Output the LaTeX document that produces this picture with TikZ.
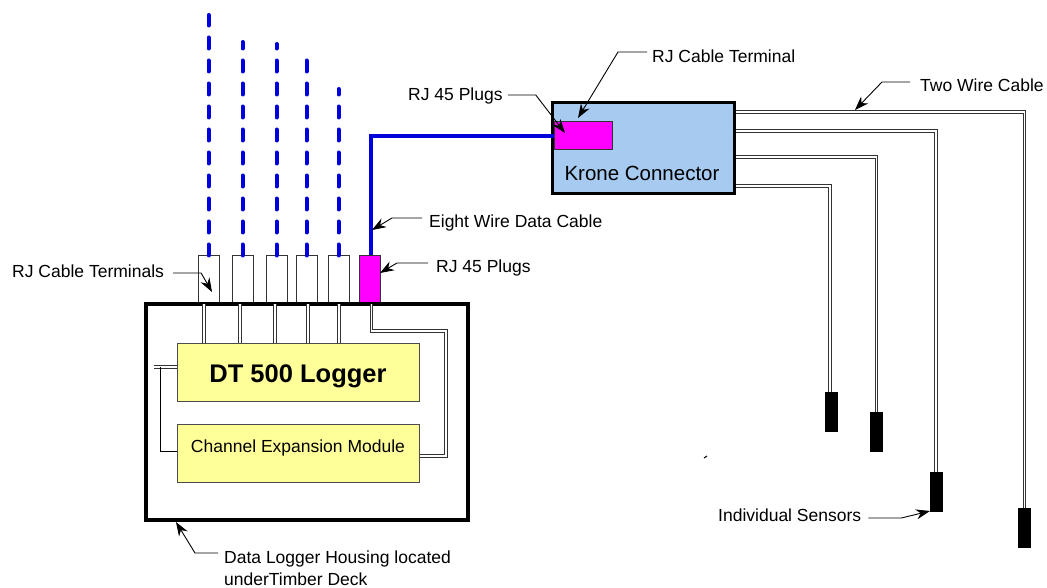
\documentclass[tikz,border=0pt]{standalone}
\usepackage{fontspec}
\usepackage{xcolor}
\usetikzlibrary{arrows.meta}
\setmainfont{Liberation Sans}
\definecolor{kroneblue}{RGB}{166,202,240}
\definecolor{loggeryellow}{RGB}{255,255,153}
\definecolor{plugpink}{RGB}{255,0,255}
\definecolor{cableblue}{RGB}{0,0,220}
\begin{document}
\begin{tikzpicture}%
  [x=1pt,y=-1pt,
   every node/.style={font=\fontsize{17.5}{22}\selectfont,inner sep=0},
   term node/.style={rectangle,draw=black!80,line width=1,minimum width=21,minimum height=47},
   plug node/.style={rectangle,draw=black!80,line width=1,fill=plugpink},
   box node/.style={rectangle,draw=black!70,line width=1,fill=loggeryellow,minimum width=242,minimum height=58},
   sensor node/.style={rectangle,fill=black,minimum width=13,minimum height=40},
   label node/.style={anchor=west,align=left},
   wire/.style={draw=black!80,line width=1.1,double=white,double distance=1.7},
   cable/.style={draw=cableblue,line width=4},
   note/.style={draw=black,line width=.9,-{Stealth[length=14,width=10]}}]
  \useasboundingbox (0,0) rectangle (1047,588);
  % terminals and the cables going up
  \foreach \i/\x/\t in {1/208.5/15,2/242.5/42,3/276.5/44,4/306.5/56,5/338.5/89}{
    \node(term\i)[term node] at (\x,279.5){};
    \coordinate(top\i) at (\x,\t);
    \draw[cable,line cap=round,dash pattern=on 11 off 12] (term\i.north) -- (top\i);
  }
  \node(plug)[plug node,minimum width=21,minimum height=47] at (369.5,279.5){};
  % housing and what is in it
  \node(housing)[rectangle,draw=black,line width=4,minimum width=322,minimum height=216] at (306.5,412){};
  \node(logger)[box node] at (298,372){\raisebox{-10pt}[0pt][0pt]{\fontsize{25.5}{28}\selectfont\bfseries DT 500 Logger}};
  \node(module)[box node] at (298,453){\raisebox{1pt}[0pt][0pt]{Channel Expansion Module}};
  \foreach \i/\w in {1/-4.5,2/-2.5,3/-1.5,4/1.5,5/.5}{
    \draw[wire] ([xshift=\w]term\i.south) -- ([xshift=\w]term\i.south |- logger.north);
  }
  \coordinate(turn) at (446,331);
  \draw[wire] ([xshift=2]plug.south) |- (turn) |- ([yshift=-3]module.east);
  \coordinate(stub) at (154,367);
  \draw[wire] (stub) -- (stub -| logger.west);
  \draw[line width=1] (160,367) |- ([yshift=2]module.west);
  % krone connector
  \node(krone)[rectangle,draw=black,line width=3,fill=kroneblue,minimum width=182,minimum height=91] at (643,148.5){};
  \node(kronetext) at (642,173){\fontsize{20.5}{24}\selectfont Krone Connector};
  \node(inplug)[plug node,minimum width=58,minimum height=28,anchor=west] at (554,136){};
  \draw[cable] ([xshift=1.5]plug.north) |- (inplug.west);
  % sensors
  \node(sensA)[sensor node,anchor=north] at (831.5,392){};
  \node(sensB)[sensor node,anchor=north] at (876.5,412){};
  \node(sensC)[sensor node,anchor=north] at (936,472){};
  \node(sensD)[sensor node,anchor=north] at (1024.5,508){};
  \draw[wire] ([yshift=36.5]krone.east) -| (sensD.north);
  \draw[wire] ([yshift=17.5]krone.east) -| (sensC.north);
  \draw[wire] ([yshift=-8.5]krone.east) -| (sensB.north);
  \draw[wire] ([yshift=-37.5]krone.east) -| ([xshift=-1.5]sensA.north);
  \coordinate(speck) at (704,458);
  \draw[line width=1] (speck) -- ++(3,-2);
  % labels
  \node(lterminal)[label node] at (652,56){RJ Cable Terminal};
  \node(lplugs)[label node] at (408,96){RJ 45 Plugs};
  \node(ltwo)[label node] at (920,85){Two Wire Cable};
  \node(leight)[label node] at (429,223){Eight Wire Data Cable};
  \node(lplug)[label node] at (436,268){RJ 45 Plugs};
  \node(lterminals)[label node] at (12,271){RJ Cable Terminals};
  \node(lhousing)[label node,anchor=north west] at (224,551){Data Logger Housing located\\underTimber Deck};
  \node(lsensors)[label node] at (718,515){Individual Sensors};
  \draw[note] ([xshift=-5,yshift=4]lterminal.west) -- ++(-29,0) -- (578,118);
  \draw[note] ([xshift=5,yshift=1]lplugs.east) -- ++(28,0) -- (565,133);
  \draw[note] ([xshift=-10,yshift=3]ltwo.west) -- ++(-28,0) -- (855,110);
  \draw[note] ([xshift=-7,yshift=5]leight.west) -- ++(-30,0) -- (372,230);
  \draw[note] ([xshift=-8,yshift=5]lplug.west) -- ++(-31,0) -- (380,273);
  \draw[note] ([xshift=9,yshift=-2]lterminals.east) -- ++(28,0) -- (212,292);
  \draw[note] ([xshift=-6,yshift=-2]lhousing.north west) -- ++(-23,0) -- (176,522);
  \draw[note] ([xshift=7,yshift=-3]lsensors.east) -- ++(33,0) -- (930,511);
\end{tikzpicture}
\end{document}
